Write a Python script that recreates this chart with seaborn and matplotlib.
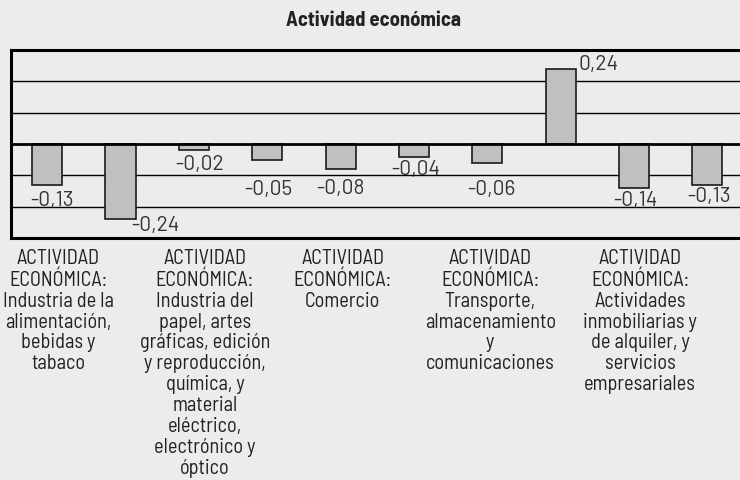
import matplotlib
matplotlib.use('Agg')
import matplotlib.pyplot as plt
import matplotlib.transforms as mtransforms
import seaborn as sns
import pandas as pd

# Chart data
values = [-0.13, -0.24, -0.02, -0.05, -0.08, -0.04, -0.06, 0.24, -0.14, -0.13]
value_labels = ['-0,13', '-0,24', '-0,02', '-0,05', '-0,08', '-0,04', '-0,06', '0,24', '-0,14', '-0,13']
# only every other category is labelled in the original
tick_labels = [
    'ACTIVIDAD\nECONÓMICA:\nIndustria de la\nalimentación,\nbebidas y\ntabaco',
    '',
    'ACTIVIDAD\nECONÓMICA:\nIndustria del\npapel, artes\ngráficas, edición\ny reproducción,\nquímica, y\nmaterial\neléctrico,\nelectrónico y\nóptico',
    '',
    'ACTIVIDAD\nECONÓMICA:\nComercio',
    '',
    'ACTIVIDAD\nECONÓMICA:\nTransporte,\nalmacenamiento\ny\ncomunicaciones',
    '',
    'ACTIVIDAD\nECONÓMICA:\nActividades\ninmobiliarias y\nde alquiler, y\nservicios\nempresariales',
    '',
]
title = 'Actividad económica'

# label placement tweaks (pixels), to follow the original layout
label_dx = [5, 0, 6, 1, 0, 2, 4, 0, 1, 1.5]
label_gap = [7, 0, 6, 21, 11, 4, 18, 0, 4, 3]
tick_dx = [11, 0, 11, 0, 2, 0, 3, 0, 6, 0]

df = pd.DataFrame({'pos': range(len(values)), 'value': values})

sns.set_style('white')
plt.rcParams['font.family'] = ['Barlow Semi Condensed', 'DejaVu Sans']

bg = '#ececec'
fig = plt.figure(figsize=(7.4, 4.8), dpi=100, facecolor=bg)
ax = fig.add_axes([10.5 / 740, 1 - 238 / 480, (744 - 10.5) / 740, 188 / 480])
ax.set_facecolor(bg)

bar_width = 0.41
sns.barplot(data=df, x='pos', y='value', color='#c0c0c0', edgecolor='#1a1a1a',
            linewidth=1.2, width=bar_width, saturation=1, ax=ax, zorder=3)

ax.set_xlim(-0.5, len(values) - 0.5)
ax.set_ylim(-0.3, 0.3)

# horizontal gridlines
for g in [-0.2, -0.1, 0.1, 0.2]:
    ax.axhline(g, color='black', lw=1, zorder=1)
ax.axhline(0, color='black', lw=2, zorder=4)

for side in ['top', 'left', 'bottom', 'right']:
    ax.spines[side].set_color('black')
    ax.spines[side].set_linewidth(2.2)
ax.spines['right'].set_visible(False)

ax.set_yticks([])
ax.set_ylabel('')
ax.set_xlabel('')
ax.set_xticks(range(len(values)))
ax.set_xticklabels(tick_labels, fontsize=14.6, color='#222222', linespacing=1.13, va='top')
ax.tick_params(axis='x', length=0, pad=8)
for lbl, dx in zip(ax.get_xticklabels(), tick_dx):
    lbl.set_transform(lbl.get_transform() + mtransforms.ScaledTranslation(dx / 100, 0, fig.dpi_scale_trans))

# value labels
num_font = ['Barlow', 'DejaVu Sans']
for i, (v, t) in enumerate(zip(values, value_labels)):
    if v > 0.2:
        ax.annotate(t, xy=(i + bar_width / 2, v), xytext=(3, -1),
                    textcoords='offset pixels', ha='left', va='baseline',
                    fontsize=15, color='#333333', zorder=5, family=num_font)
    elif v < -0.2:
        ax.annotate(t, xy=(i + bar_width / 2, v), xytext=(-4, 3),
                    textcoords='offset pixels', ha='left', va='top',
                    fontsize=15, color='#333333', zorder=5, family=num_font)
    else:
        ax.annotate(t, xy=(i, v), xytext=(label_dx[i], -(label_gap[i] - 1)),
                    textcoords='offset pixels', ha='center', va='top',
                    fontsize=15, color='#333333', zorder=5, family=num_font)

fig.text(373 / 740, 1 - 21 / 480, title, ha='center', va='center',
         fontsize=14.8, fontweight='bold', color='#222222',
         family=['Barlow Semi Condensed', 'DejaVu Sans'])

fig.savefig('out.png', dpi=100, facecolor=bg)
